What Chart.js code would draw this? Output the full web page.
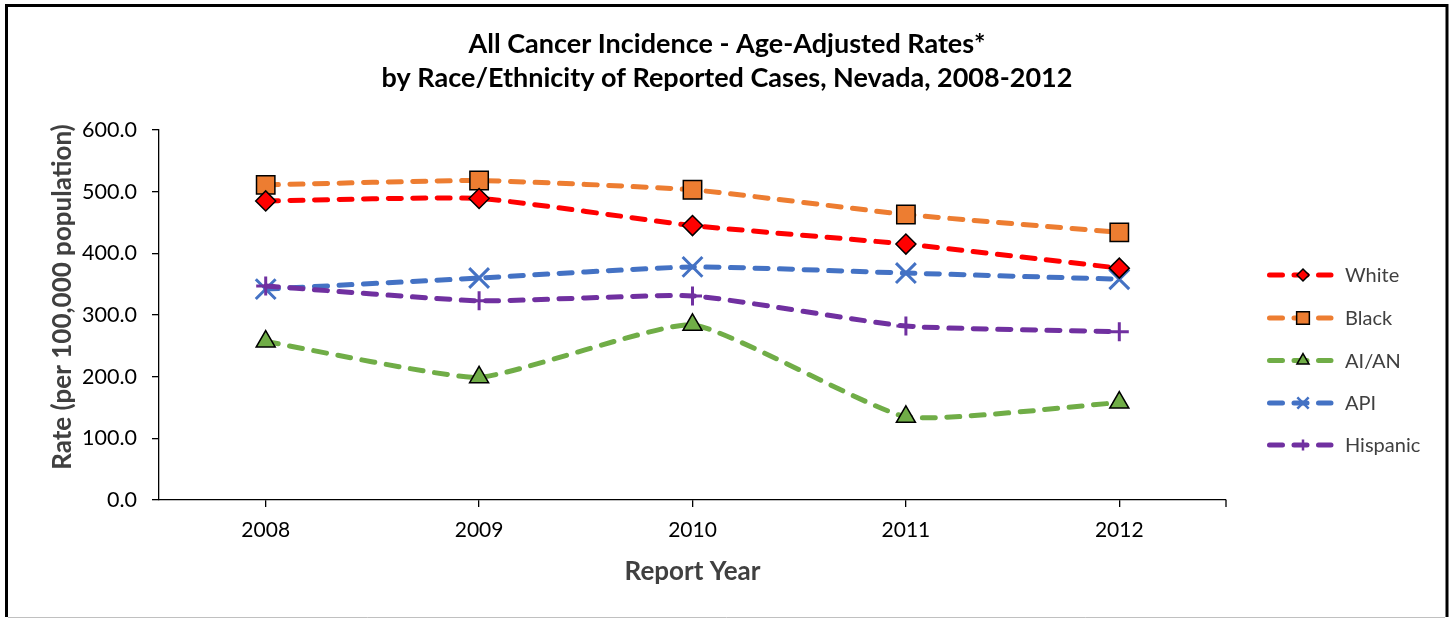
<!DOCTYPE html>
<html>
<head>
<meta charset="utf-8">
<script src="https://cdn.jsdelivr.net/npm/chart.js@4.4.1/dist/chart.umd.min.js"></script>
<style>
  html, body { margin: 0; padding: 0; background: #fff; }
  canvas { display: block; }
</style>
</head>
<body>
<canvas id="incidenceChart" width="1450" height="619"></canvas>
<script>
/* ── Data ────────────────────────────────────────── */
const years    = ['2008', '2009', '2010', '2011', '2012'];
const white    = [485, 489, 445, 415, 376];
const black    = [511, 518, 503, 463, 434];
const aian     = [257, 199, 284, 135, 158];
const api      = [342, 360, 378, 368, 358];
const hispanic = [347, 323, 331, 282, 273];
const yTicks   = [0, 100, 200, 300, 400, 500, 600];

const FONT = 'Lato, "Liberation Sans", sans-serif';

const series = [
  { label:'White',    data:white,    color:'#FF0000', style:'rectRot',  r:10, lr:6,   fill:'#FF0000', edge:'#000', bw:1.5, order:0 },
  { label:'Black',    data:black,    color:'#ED7D31', style:'rect',     r:13, lr:9,   fill:'#ED7D31', edge:'#000', bw:1.5, order:1 },
  { label:'AI/AN',    data:aian,     color:'#70AD47', style:'triangle', r:11, lr:7,   fill:'#70AD47', edge:'#000', bw:1.5, order:2 },
  { label:'API',      data:api,      color:'#4472C4', style:'crossRot', r:14, lr:8,   fill:'#4472C4', edge:'#4472C4', bw:3, order:4 },
  { label:'Hispanic', data:hispanic, color:'#7030A0', style:'cross',    r:9.5, lr:5.5, fill:'#7030A0', edge:'#7030A0', bw:3, order:3 },
];

/* ── Frame, titles, legend ───────────────────────── */
const decor = {
  id: 'decor',
  beforeDraw(chart) {
    const ctx = chart.ctx;
    ctx.save();
    ctx.fillStyle = '#fff';
    ctx.fillRect(0, 0, chart.width, chart.height);
    ctx.restore();
  },
  afterDraw(chart) {
    const ctx = chart.ctx;
    const a = chart.chartArea;
    ctx.save();

    // outer frame
    ctx.strokeStyle = '#000';
    ctx.lineWidth = 3;
    ctx.beginPath();
    ctx.moveTo(6.5, 617); ctx.lineTo(6.5, 5.5); ctx.lineTo(1447, 5.5); ctx.lineTo(1447, 617);
    ctx.stroke();
    ctx.strokeStyle = '#c0c0c0';
    ctx.lineWidth = 1;
    ctx.beginPath(); ctx.moveTo(8, 617.5); ctx.lineTo(1445, 617.5); ctx.stroke();

    // tick at right end of the category axis
    ctx.strokeStyle = '#000';
    ctx.lineWidth = 1.3;
    ctx.beginPath(); ctx.moveTo(a.right, a.bottom); ctx.lineTo(a.right, a.bottom + 7); ctx.stroke();

    // chart title
    ctx.fillStyle = '#000';
    ctx.textAlign = 'center';
    ctx.textBaseline = 'middle';
    ctx.font = 'bold 27px ' + FONT;
    ctx.fillText('All Cancer Incidence - Age-Adjusted Rates*', 727, 44);
    ctx.fillText('by Race/Ethnicity of Reported Cases, Nevada, 2008-2012', 727, 78);

    // axis titles
    ctx.fillStyle = '#404040';
    ctx.font = 'bold 26px ' + FONT;
    ctx.fillText('Report Year', (a.left + a.right) / 2, 572);
    ctx.save();
    ctx.translate(63, 297);
    ctx.rotate(-Math.PI / 2);
    ctx.fillText('Rate (per 100,000 population)', 0, 0);
    ctx.restore();

    // legend: dashed sample + marker + name
    const rows = [275, 318, 360.5, 403, 445];
    series.forEach((s, i) => {
      const y = rows[i];
      ctx.setLineDash([13, 11.5]);
      ctx.lineCap = 'round';
      ctx.lineWidth = 5;
      ctx.strokeStyle = s.color;
      ctx.beginPath(); ctx.moveTo(1269.5, y); ctx.lineTo(1331, y); ctx.stroke();
      ctx.setLineDash([]);
      ctx.lineCap = 'butt';
      ctx.fillStyle = s.fill;
      ctx.strokeStyle = s.edge;
      ctx.lineWidth = s.bw === 3 ? 2.5 : 1.5;
      Chart.helpers.drawPoint(ctx, { pointStyle: s.style, radius: s.lr, rotation: 0, borderWidth: ctx.lineWidth }, 1303, y);
      ctx.fillStyle = '#404040';
      ctx.textAlign = 'left';
      ctx.font = '20px ' + FONT;
      ctx.fillText(s.label, 1345, y + 1);
    });

    ctx.restore();
  }
};

/* ── Chart ───────────────────────────────────────── */
new Chart(document.getElementById('incidenceChart'), {
  type: 'line',
  data: {
    labels: years,
    datasets: series.map(s => ({
      label: s.label,
      data: s.data,
      order: s.order,
      borderColor: s.color,
      borderWidth: 5,
      borderDash: [13, 11.5],
      borderCapStyle: 'round',
      tension: 0.15,
      pointStyle: s.style,
      pointRadius: s.r,
      pointHoverRadius: s.r,
      pointBackgroundColor: s.fill,
      pointBorderColor: s.edge,
      pointBorderWidth: s.bw,
      fill: false
    }))
  },
  options: {
    responsive: false,
    animation: false,
    layout: { padding: { top: 130, right: 224, left: 0, bottom: 0 } },
    plugins: {
      legend: { display: false },
      title: { display: false },
      tooltip: { enabled: false }
    },
    scales: {
      x: {
        offset: true,
        grid: { offset: false, drawOnChartArea: false, drawTicks: true, tickLength: 7, color: '#000', lineWidth: 1.3 },
        border: { display: true, color: '#000', width: 1.3 },
        ticks: { color: '#000', font: { family: FONT, size: 21 }, padding: 11, maxRotation: 0 },
        afterFit: s => { s.height = 119; }
      },
      y: {
        min: 0, max: 600,
        afterBuildTicks: s => { s.ticks = yTicks.map(v => ({ value: v })); },
        grid: { drawOnChartArea: false, drawTicks: true, tickLength: 7, color: '#000', lineWidth: 1.3 },
        border: { display: true, color: '#000', width: 1.3 },
        ticks: { color: '#000', font: { family: FONT, size: 21.5 }, padding: 15, callback: v => Number(v).toFixed(1) },
        afterFit: s => { s.width = 159; }
      }
    }
  },
  plugins: [decor]
});
</script>
</body>
</html>
